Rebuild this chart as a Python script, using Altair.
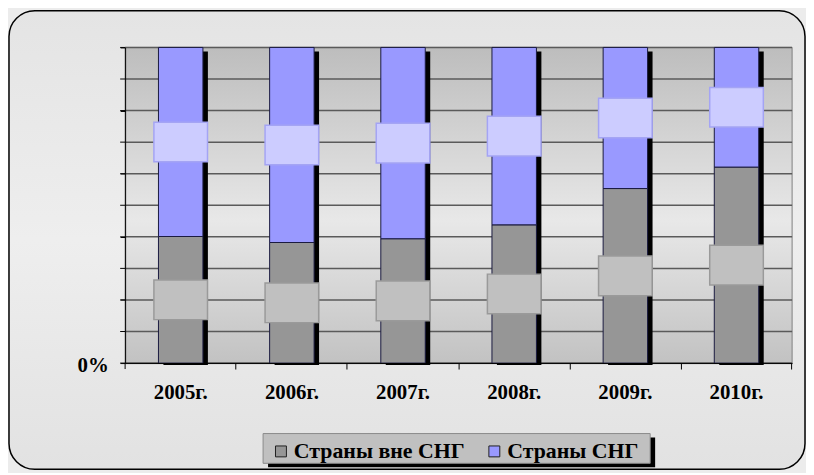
import altair as alt
import pandas as pd

years = ["2005г.", "2006г.", "2007г.", "2008г.", "2009г.", "2010г."]
non_cis = [40.1, 38.2, 39.4, 43.8, 55.3, 62.1]   # Страны вне СНГ, %
cis = [59.9, 61.8, 60.6, 56.2, 44.7, 37.9]       # Страны СНГ, %
series = ["Страны вне СНГ", "Страны СНГ"]
colors = ["#969696", "#9999ff"]
box_fill = ["#c0c0c0", "#ccccff"]
box_stroke = ["#9a9a9a", "#a4a4f4"]
tick_vals = [0.0, 0.1, 0.2, 0.3, 0.4, 0.5, 0.6, 0.7, 0.8, 0.9, 1.0]

W, H = 672, 318
FONT = "Liberation Serif"

rows = []
for i, y in enumerate(years):
    a = non_cis[i] / 100.0
    b = cis[i] / 100.0
    tot = a + b
    a, b = a / tot, b / tot
    rows.append({"year": y, "series": series[0], "start": 0.0, "end": a, "mid": a / 2})
    rows.append({"year": y, "series": series[1], "start": a, "end": 1.0, "mid": a + b / 2})
df = pd.DataFrame(rows)
shadow_df = pd.DataFrame({"year": years, "top": [1.0] * len(years)})
tick_df = pd.DataFrame({"v": tick_vals})
one = pd.DataFrame({"a": [0]})

xs = alt.X("year:N", sort=years, title=None,
           scale=alt.Scale(paddingInner=0.6, paddingOuter=0.3),
           axis=alt.Axis(labelAngle=0, labelFont=FONT, labelFontSize=21,
                         labelFontWeight="bold", labelColor="black",
                         tickSize=6, tickColor="black", domainColor="black",
                         labelPadding=13, bandPosition=1.75,
                         zindex=1))
ys = alt.Scale(domain=[0, 1], nice=False)

outer = alt.Chart(one).mark_rect(
    cornerRadius=26, stroke="black", strokeWidth=1.5,
    fill=alt.Gradient(gradient="linear", x1=0, y1=0, x2=0, y2=1,
                      stops=[alt.GradientStop(offset=0, color="#e4e4e4"),
                             alt.GradientStop(offset=0.5, color="#eeeeee"),
                             alt.GradientStop(offset=1, color="#e2e2e2")]),
    clip=False
).encode(x=alt.value(-117), x2=alt.value(W + 13),
         y=alt.value(-37), y2=alt.value(H + 107))

plotbg = alt.Chart(one).mark_rect(
    stroke="#808080", strokeWidth=1,
    fill=alt.Gradient(gradient="linear", x1=0, y1=0, x2=0, y2=1,
                      stops=[alt.GradientStop(offset=0, color="#bdbdbd"),
                             alt.GradientStop(offset=0.55, color="#e8e8e8"),
                             alt.GradientStop(offset=1, color="#c2c2c2")])
).encode(x=alt.value(0), x2=alt.value(W), y=alt.value(0), y2=alt.value(H))

grid = alt.Chart(tick_df).mark_rule(color="#5a5a5a", strokeWidth=1.5).encode(
    y=alt.Y("v:Q", scale=ys), x=alt.value(0), x2=alt.value(W))

yticks = alt.Chart(tick_df).mark_rule(color="black", strokeWidth=1, clip=False).encode(
    y=alt.Y("v:Q", scale=ys), x=alt.value(-5), x2=alt.value(0))

leftdown = alt.Chart(one).mark_rule(
    color="black", strokeWidth=1, clip=False
).encode(x=alt.value(0), y=alt.value(H), y2=alt.value(H + 6))

shadow = alt.Chart(shadow_df).mark_bar(
    color="black", xOffset=5, yOffset=4, y2Offset=2
).encode(x=xs, y=alt.Y("top:Q", scale=ys), y2=alt.datum(0))

bars = alt.Chart(df).mark_bar(stroke="#1a1a40", strokeWidth=1).encode(
    x=xs,
    y=alt.Y("end:Q", scale=ys, title=None,
            axis=alt.Axis(values=tick_vals,
                          labelExpr="datum.value == 0 ? '0%' : ''",
                          labelFont=FONT, labelFontSize=21, labelFontWeight="bold",
                          labelColor="black", tickSize=5, tickColor="black",
                          domainColor="black", labelPadding=12, grid=False,
                          labelOffset=2, zindex=1)),
    y2="start:Q",
    color=alt.Color("series:N", sort=series,
                    scale=alt.Scale(domain=series, range=colors),
                    legend=alt.Legend(
                        title=None, orient="none", direction="horizontal",
                        legendX=139, legendY=389,
                        padding=7, symbolType="square", symbolSize=121,
                        symbolStrokeColor="#202020", symbolStrokeWidth=1,
                        labelFont=FONT, labelFontSize=22, labelFontWeight="bold",
                        labelColor="black", labelLimit=400, columnPadding=18,
                        symbolOffset=0, labelOffset=2)),
)

legend_shadow = alt.Chart(one).mark_rect(color="black", clip=False).encode(
    x=alt.value(144), x2=alt.value(534), y=alt.value(393), y2=alt.value(423))
legend_box = alt.Chart(one).mark_rect(
    fill="#c0c0c0", stroke="#8a8a8a", strokeWidth=1, clip=False
).encode(x=alt.value(139), x2=alt.value(529), y=alt.value(389), y2=alt.value(419))

boxes = alt.Chart(df).mark_point(
    shape="M-1,-0.74L1,-0.74L1,0.74L-1,0.74Z", size=2916, filled=True,
    strokeWidth=1.5, opacity=1
).encode(
    x=xs,
    y=alt.Y("mid:Q", scale=ys),
    fill=alt.Fill("series:N", scale=alt.Scale(domain=series, range=box_fill), legend=None),
    stroke=alt.Stroke("series:N", scale=alt.Scale(domain=series, range=box_stroke), legend=None),
)

chart = alt.layer(outer, plotbg, grid, yticks, leftdown, shadow, bars, boxes,
                  legend_shadow, legend_box).resolve_scale(
    fill="independent", stroke="independent", color="independent"
).properties(
    width=W, height=H,
    autosize=alt.AutoSizeParams(type="none"),
    padding={"left": 118, "top": 38, "right": 14, "bottom": 109},
    background="#ececec",
).configure_view(stroke=None)

chart.save("out.html", embed_options={"renderer": "svg", "actions": False})
